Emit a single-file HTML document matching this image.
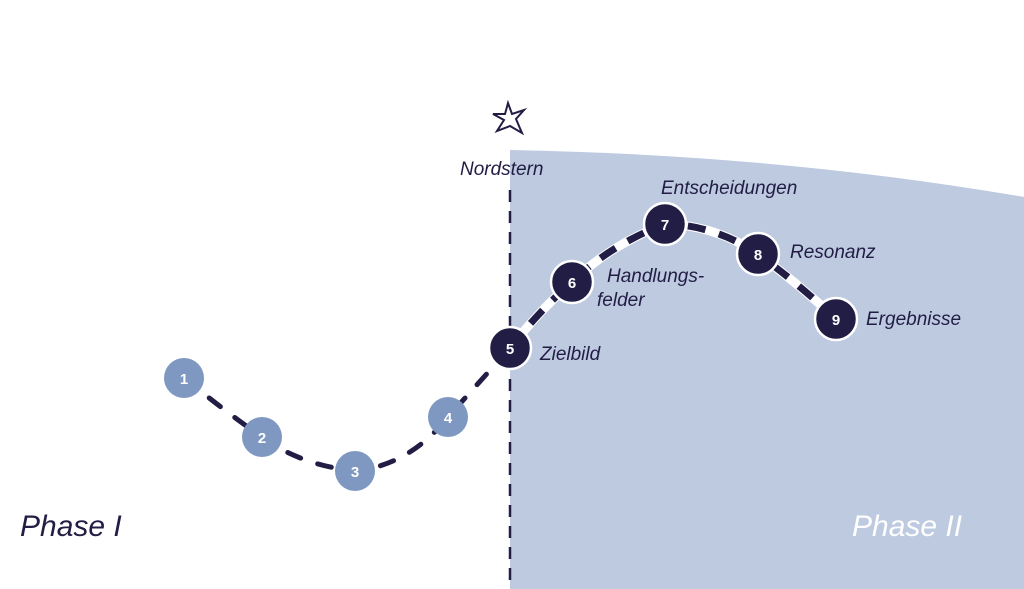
<!DOCTYPE html>
<html><head><meta charset="utf-8"><style>
html,body{margin:0;padding:0;background:#fff;}
svg{display:block;}
text{font-family:"Liberation Sans",sans-serif;}
.h{font-family:"Liberation Sans",sans-serif;font-style:italic;fill:#221d45;font-size:19px;}
.n{font-weight:bold;font-size:15px;fill:#fff;text-anchor:middle;}
</style></head><body>
<svg width="1024" height="589" viewBox="0 0 1024 589">
<path d="M510 150 Q780 155 1024 197 L1024 589 L510 589 Z" fill="#bdcae0"/>
<line x1="510" y1="190" x2="510" y2="589" stroke="#221d45" stroke-width="2.5" stroke-dasharray="12,9"/>
<!-- phase 1 path -->
<path d="M184 378 Q230 415 262 437 Q300 465 355 471 Q410 465 448 417 L510 348" fill="none" stroke="#221d45" stroke-width="5" stroke-linecap="round" stroke-dasharray="14,18"/>
<!-- phase 2 path -->
<path d="M510 348 Q540 310 572 282 Q610 245 665 224 Q715 225 758 254 Q800 285 836 319" fill="none" stroke="#fff" stroke-width="9"/>
<path d="M510 348 Q540 310 572 282 Q610 245 665 224 Q715 225 758 254 Q800 285 836 319" fill="none" stroke="#221d45" stroke-width="7" stroke-dasharray="18,14"/>
<g fill="#7f98c1">
<circle cx="184" cy="378" r="20"/><circle cx="262" cy="437" r="20"/>
<circle cx="355" cy="471" r="20"/><circle cx="448" cy="417" r="20"/>
</g>
<g fill="#221d45" stroke="#fff" stroke-width="2.5">
<circle cx="510" cy="348" r="21"/><circle cx="572" cy="282" r="21"/>
<circle cx="665" cy="224" r="21"/><circle cx="758" cy="254" r="21"/>
<circle cx="836" cy="319" r="21"/>
</g>
<text class="n" x="184" y="384">1</text><text class="n" x="262" y="443">2</text>
<text class="n" x="355" y="477">3</text><text class="n" x="448" y="423">4</text>
<text class="n" x="510" y="354">5</text><text class="n" x="572" y="288">6</text>
<text class="n" x="665" y="230">7</text><text class="n" x="758" y="260">8</text>
<text class="n" x="836" y="325">9</text>
<polygon points="508,103 512,114 524,110 516,119 522,133 510,126 497,131 504,120 493,114 505,114" fill="none" stroke="#221d45" stroke-width="2"/>
<text class="h" x="460" y="175">Nordstern</text>
<text class="h" x="661" y="194">Entscheidungen</text>
<text class="h" x="607" y="282">Handlungs-</text>
<text class="h" x="597" y="306">felder</text>
<text class="h" x="790" y="258">Resonanz</text>
<text class="h" x="866" y="325">Ergebnisse</text>
<text class="h" x="540" y="360">Zielbild</text>
<text class="h" x="20" y="536" style="font-size:30px">Phase I</text>
<text class="h" x="852" y="536" style="font-size:30px;fill:#fff">Phase II</text>
</svg>
</body></html>
